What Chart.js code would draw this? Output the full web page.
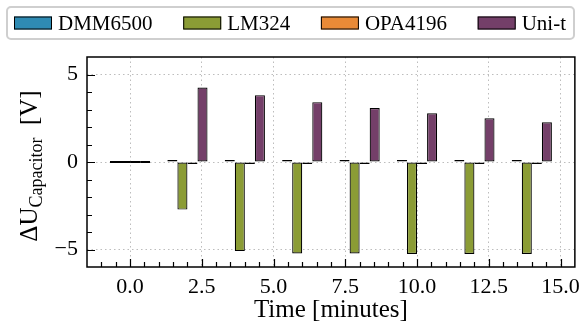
<!DOCTYPE html>
<html>
<head>
<meta charset="utf-8">
<script src="https://cdn.jsdelivr.net/npm/chart.js@4.4.1/dist/chart.umd.min.js"></script>
<style>
  html, body { margin: 0; padding: 0; background: #fff; }
</style>
</head>
<body>
<canvas id="grafica" width="587" height="329"></canvas>
<script>
// data
const times = [0, 2, 4, 6, 8, 10, 12, 14]
const dmm6500 = [0, 0.03, 0.05, 0.06, 0.07, 0.08, 0.09, 0.10]
const lm324 = [0, -2.72, -5.09, -5.23, -5.23, -5.25, -5.26, -5.26]
const opa4196 = [0, -0.02, -0.02, -0.02, -0.02, -0.02, -0.02, -0.02]
const unit = [0, 4.26, 3.82, 3.42, 3.09, 2.79, 2.50, 2.27]

const xTicks = [0, 2.5, 5, 7.5, 10, 12.5, 15]
const xTickLabels = ['0.0', '2.5', '5.0', '7.5', '10.0', '12.5', '15.0']
const yTicks = [-5, 0, 5]
const yTickLabels = ['\u22125', '0', '5']

const serif = '"Liberation Serif", "Times New Roman", serif'

const makeSet = (label, values, color) => ({
    label: label,
    data: times.map((t, i) => ({ x: t, y: values[i] })),
    backgroundColor: color,
    borderColor: '#000',
    borderWidth: 1.2,
    borderSkipped: false,
    minBarLength: 2,
    categoryPercentage: 0.7,
    barPercentage: 1
})

const datasets = [
    makeSet('DMM6500', dmm6500, '#2f8bb3'),
    makeSet('LM324', lm324, '#8b9c35'),
    makeSet('OPA4196', opa4196, '#e98a37'),
    makeSet('Uni-t', unit, '#743f69')
]

// ticks inside, frame, y title and legend box
const decor = {
    id: 'decor',
    afterDraw(chart) {
        const ctx = chart.ctx
        const { left, right, top, bottom } = chart.chartArea
        const xs = chart.scales.x, ys = chart.scales.y
        ctx.save()
        ctx.strokeStyle = '#000'
        ctx.lineWidth = 1.2
        ctx.beginPath()
        for (let v = -1.5; v <= 15.5; v += 0.5) {
            if (v <= -1.5 || v >= 15.5) continue
            const len = xTicks.includes(v) ? 8 : 5
            const px = Math.round(xs.getPixelForValue(v)) + 0.5
            ctx.moveTo(px, bottom)
            ctx.lineTo(px, bottom - len)
        }
        for (let v = -5; v <= 5; v += 1) {
            const len = yTicks.includes(v) ? 8 : 5
            const py = Math.round(ys.getPixelForValue(v)) + 0.5
            ctx.moveTo(left, py)
            ctx.lineTo(left + len, py)
        }
        ctx.stroke()
        ctx.lineWidth = 1.5
        ctx.strokeRect(left, top, right - left, bottom - top)

        // y axis title with subscript
        ctx.fillStyle = '#000'
        ctx.textBaseline = 'alphabetic'
        const big = '25px ' + serif, small = '18px ' + serif
        const parts = [['\u0394U', big, 0], ['Capacitor', small, 5], ['  [V]', big, 0]]
        let total = 0
        parts.forEach(p => { ctx.font = p[1]; total += ctx.measureText(p[0]).width })
        ctx.translate(37, (top + bottom) / 2 + 4)
        ctx.rotate(-Math.PI / 2)
        let x = -total / 2
        parts.forEach(p => {
            ctx.font = p[1]
            ctx.fillText(p[0], x, p[2])
            x += ctx.measureText(p[0]).width
        })
        ctx.restore()

        // legend
        ctx.save()
        const fl = 7, fr = 574, ft = 7, fb = 39
        ctx.fillStyle = '#fff'
        ctx.strokeStyle = '#cfcfcf'
        ctx.lineWidth = 2
        ctx.beginPath()
        ctx.roundRect(fl, ft, fr - fl, fb - ft, 4)
        ctx.fill()
        ctx.stroke()
        ctx.font = '21px ' + serif
        ctx.textBaseline = 'middle'
        const sw = 38, sh = 13, gapText = 6
        const widths = chart.data.datasets.map(d => sw + gapText + ctx.measureText(d.label).width)
        const start = fl + 7, end = fr - 8
        const gap = (end - start - widths.reduce((a, b) => a + b, 0)) / (widths.length - 1)
        let cx = start
        const cy = (ft + fb) / 2
        chart.data.datasets.forEach((d, i) => {
            ctx.fillStyle = d.backgroundColor
            ctx.fillRect(cx, cy - sh / 2, sw, sh)
            ctx.strokeStyle = '#000'
            ctx.lineWidth = 1
            ctx.strokeRect(cx + 0.5, cy - sh / 2 + 0.5, sw - 1, sh - 1)
            ctx.fillStyle = '#000'
            ctx.fillText(d.label, cx + sw + gapText, cy + 1)
            cx += widths[i] + gap
        })
        ctx.restore()
    }
}

const graph = document.querySelector('#grafica')

new Chart(graph, {
    type: 'bar',
    data: { datasets: datasets },
    options: {
        responsive: false,
        animation: false,
        devicePixelRatio: 1,
        layout: { padding: { top: 57, right: 8, left: 0, bottom: 0 } },
        plugins: { legend: { display: false }, tooltip: { enabled: false } },
        scales: {
            x: {
                type: 'linear',
                min: -1.5,
                max: 15.5,
                offset: false,
                grid: { offset: false, color: '#bdbdbd', lineWidth: 1, drawTicks: false },
                border: { display: false, dash: [1.5, 3] },
                afterBuildTicks: s => { s.ticks = xTicks.map(v => ({ value: v })) },
                ticks: {
                    padding: 7,
                    color: '#000',
                    autoSkip: false,
                    maxRotation: 0,
                    font: { family: serif, size: 22 },
                    callback: (v, i) => xTickLabels[i]
                },
                title: {
                    display: true,
                    text: 'Time [minutes]',
                    color: '#000',
                    font: { family: serif, size: 25 },
                    padding: { top: 0, bottom: 4 }
                },
                afterFit: s => { s.height = 62 }
            },
            y: {
                min: -6,
                max: 6,
                grid: { color: '#bdbdbd', lineWidth: 1, drawTicks: false },
                border: { display: false, dash: [1.5, 3] },
                afterBuildTicks: s => { s.ticks = yTicks.map(v => ({ value: v })) },
                ticks: {
                    padding: 9,
                    color: '#000',
                    font: { family: serif, size: 22 },
                    callback: (v, i) => yTickLabels[i]
                },
                afterFit: s => { s.width = 87 }
            }
        }
    },
    plugins: [decor]
})
</script>
</body>
</html>
